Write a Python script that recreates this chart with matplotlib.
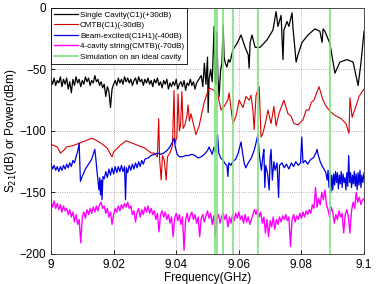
import numpy as np
import matplotlib
matplotlib.use('Agg')
import matplotlib.pyplot as plt

plt.rcParams['font.family'] = ['Liberation Sans', 'DejaVu Sans']

# ── data ────────────────────────────────────────────────────
# Single cavity (C1) +30dB: noisy part sampled every 0.5 MHz from 9.000 GHz
black_noise = [
    -58, -62, -57, -63, -59, -61, -56, -64, -58, -62,
    -57, -66, -60, -69, -58, -63, -56, -61, -58, -64,
    -59, -62, -56, -60, -57, -63, -59, -61, -55, -60,
    -58, -63, -60, -65, -62, -72, -64, -68, -81, -66,
    -62, -59, -63, -57, -61, -58, -62, -56, -60, -57,
    -61, -58, -63, -59, -57, -62, -56, -60, -58, -63,
    -58, -61, -57, -62, -59, -64, -58, -61, -57, -63,
    -60, -65, -59, -62, -58, -66, -61, -64, -60, -63,
    -58, -66, -62, -60, -64, -59, -67, -61, -63, -58,
    -63, -60, -66, -61,
]
black_f = [9.0480, 9.0485, 9.0490, 9.0495, 9.0500, 9.0502, 9.0505, 9.0510, 9.0515,
           9.0521, 9.0524, 9.0527, 9.0530, 9.0533, 9.0537, 9.0542, 9.0546, 9.0550,
           9.0553, 9.0557, 9.0562, 9.0567, 9.0572, 9.0581, 9.0594, 9.0607, 9.0620,
           9.0630, 9.0633, 9.0636, 9.0642, 9.0652, 9.0668, 9.0690, 9.0709, 9.0719,
           9.0725, 9.0735, 9.0741, 9.0744, 9.0754, 9.0760, 9.0770, 9.0773, 9.0783,
           9.0789, 9.0802, 9.0821, 9.0843, 9.0859, 9.0866, 9.0869, 9.0875, 9.0891,
           9.0907, 9.0923, 9.0946, 9.0965, 9.0981, 9.0990, 9.1000]
black_v = [-55, -64, -45, -62, -40, -85, -58, -50, -60,
           -15, -58, -62, -20, -55, -72, -50, -45, -14,
           -40, -45, -48, -42, -44, -34, -29, -22, -32,
           -38, -49, -28, -22, -32, -32, -26, -18, -3,
           -15, -6, -42, -18, -11, -15, -4, -16, -44,
           -38, -28, -22, -17, -19, -28, -17, -19, -29,
           -53, -44, -42, -44, -63, -45, -19]

# CMTB (C1) -30dB
red_f = [9.000, 9.002, 9.003, 9.004, 9.005, 9.007, 9.009, 9.011, 9.013, 9.014,
         9.016, 9.018, 9.019, 9.0195, 9.020, 9.022, 9.024, 9.026, 9.028, 9.030,
         9.032, 9.0330, 9.0340, 9.0344, 9.0347, 9.0352, 9.0356, 9.0362, 9.0368,
         9.0372, 9.0380, 9.0388, 9.0393, 9.0396, 9.0402, 9.0406, 9.0410, 9.0414,
         9.0418, 9.0422, 9.0428, 9.0434, 9.0438, 9.0442, 9.0447, 9.0463, 9.0473,
         9.0489, 9.0502, 9.0505, 9.0521, 9.0534, 9.0543, 9.0553, 9.0565, 9.0569,
         9.0581, 9.0591, 9.0601, 9.0613, 9.0623, 9.0633, 9.0639, 9.0645, 9.0649,
         9.0655, 9.0665, 9.0671, 9.0677, 9.0687, 9.0693, 9.0703, 9.0712, 9.0719,
         9.0728, 9.0744, 9.0757, 9.0767, 9.0776, 9.0789, 9.0805, 9.0815, 9.0824,
         9.0831, 9.0840, 9.0856, 9.0869, 9.0879, 9.0888, 9.0904, 9.0927, 9.0942,
         9.0952, 9.0955, 9.0962, 9.0974, 9.0984, 9.0997, 9.1000]
red_v = [-111, -113, -118, -116, -113, -112, -110, -108, -106, -107,
         -110, -114, -119, -121, -117, -112, -108, -110, -112, -114,
         -118, -118, -121, -90, -123, -140, -120, -124, -140,
         -121, -118, -112, -67, -110, -105, -70, -100, -95,
         -68, -98, -95, -88, -79, -92, -86, -103, -96,
         -77, -67, -65, -67, -72, -83, -80, -75, -69,
         -94, -88, -75, -81, -72, -75, -71, -83, -99,
         -71, -64, -105, -102, -91, -83, -94, -80, -96,
         -86, -75, -86, -88, -94, -95, -91, -83, -83,
         -77, -75, -64, -75, -80, -83, -87, -90, -94,
         -102, -73, -89, -80, -72, -67, -66]

# Beam-excited (C1H1) -40dB
blue_f = [9.000, 9.0005, 9.001, 9.0015, 9.002, 9.0025, 9.003, 9.0035, 9.004, 9.0045,
          9.005, 9.0055, 9.006, 9.0065, 9.007, 9.0075, 9.008, 9.0085, 9.0090, 9.0092,
          9.0094, 9.0098, 9.0105, 9.011, 9.012, 9.013, 9.0136, 9.0140, 9.0143, 9.0147,
          9.0150, 9.0153, 9.0156, 9.0158, 9.0161, 9.0163, 9.0166, 9.017, 9.0175, 9.018,
          9.0185, 9.019, 9.0195, 9.020, 9.0205, 9.021, 9.0215, 9.022, 9.0225, 9.023,
          9.0235, 9.0238, 9.0241, 9.0245, 9.025, 9.0255, 9.026, 9.0265, 9.027, 9.0275,
          9.028, 9.0285, 9.029, 9.0295, 9.030, 9.031, 9.032, 9.033, 9.034, 9.035,
          9.036, 9.037, 9.038, 9.0388, 9.0393, 9.0397, 9.0403, 9.041, 9.042, 9.043,
          9.044, 9.045, 9.046, 9.047, 9.048, 9.049, 9.050, 9.0505, 9.0510, 9.0515,
          9.0521, 9.0526, 9.0532, 9.0536, 9.0542, 9.0550, 9.0557, 9.0562, 9.0565, 9.0568,
          9.0575, 9.058, 9.059, 9.0598, 9.0607, 9.0612, 9.0617, 9.0622, 9.063, 9.064,
          9.0650, 9.0661, 9.0665, 9.0669, 9.0672, 9.0677, 9.0680, 9.0683, 9.0686, 9.0692,
          9.0697, 9.0700, 9.0703, 9.0707, 9.0712, 9.0716, 9.0722, 9.0727, 9.0730, 9.0738,
          9.0745, 9.0752, 9.0760, 9.0768, 9.0775, 9.0782, 9.0790, 9.0797, 9.0801, 9.0805,
          9.0812, 9.0820, 9.0830, 9.0838, 9.0846, 9.0850, 9.0854, 9.0860, 9.0867, 9.0872,
          9.0878, 9.0882, 9.0885, 9.0888, 9.0891, 9.0894, 9.0897, 9.0900, 9.0903, 9.0906,
          9.0909, 9.0912, 9.0915, 9.0918, 9.0921, 9.0924, 9.0927, 9.0930, 9.0933, 9.0936,
          9.0939, 9.0942, 9.0945, 9.0948, 9.0951, 9.0954, 9.0957, 9.0960, 9.0963, 9.0966,
          9.0969, 9.0972, 9.0975, 9.0978, 9.0981, 9.0984, 9.0987, 9.0990, 9.0993, 9.0996,
          9.1000]
blue_v = [-127, -131, -128, -132, -129, -133, -129, -132, -128, -131,
          -127, -130, -126, -129, -124, -126, -121, -117, -110, -125,
          -141, -138, -134, -131, -127, -123, -118, -115, -122, -133,
          -140, -148, -138, -152, -140, -156, -137, -139, -133, -138,
          -131, -136, -130, -135, -129, -134, -129, -133, -128, -133,
          -129, -156, -130, -134, -128, -132, -127, -131, -126, -130,
          -125, -129, -124, -127, -123, -122, -120, -119, -118, -119,
          -118, -116, -113, -109, -106, -113, -119, -121, -121, -120,
          -120, -119, -120, -122, -121, -119, -116, -113, -116, -119,
          -113, -117, -103, -118, -122, -124, -127, -128, -137, -126,
          -128, -125, -123, -118, -109, -118, -126, -130, -126, -122,
          -115, -103, -118, -126, -132, -120, -115, -146, -128, -135,
          -148, -122, -115, -140, -125, -132, -126, -154, -128, -126,
          -130, -127, -131, -126, -129, -125, -128, -126, -105, -126,
          -124, -127, -123, -122, -118, -115, -120, -125, -129, -131,
          -134, -140, -132, -146, -134, -150, -136, -148, -135, -144,
          -133, -142, -134, -147, -136, -143, -133, -146, -135, -142,
          -138, -148, -134, -145, -120, -142, -134, -146, -136, -143,
          -133, -145, -135, -148, -134, -144, -132, -146, -136, -142,
          -134]

# 4-cavity string (CMTB) -70dB, sampled every 0.5 MHz from 9.000 GHz
magenta_v = [
    -158, -162, -157, -163, -159, -164, -160, -166, -161, -165,
    -163, -168, -164, -170, -166, -174, -168, -176, -172, -191,
    -170, -166, -171, -164, -168, -163, -167, -162, -166, -161,
    -165, -160, -158, -163, -161, -167, -163, -170, -166, -176,
    -168, -163, -166, -161, -165, -160, -163, -159, -162, -158,
    -163, -161, -168, -165, -174, -166, -163, -170, -164, -168,
    -162, -166, -161, -167, -163, -168, -165, -172, -167, -182,
    -168, -165, -170, -166, -172, -168, -175, -170, -186, -171,
    -167, -173, -168, -176, -170, -197, -172, -167, -174, -169,
    -166, -172, -168, -175, -170, -186, -171, -168, -174, -169,
    -165, -171, -167, -176, -169, -186, -171, -168, -175, -170,
    -167, -172, -168, -178, -170, -175, -168, -173, -167, -171,
    -166, -172, -169, -175, -168, -174, -170, -176, -172, -168,
    -164, -168, -163, -170, -166, -175, -170, -183, -172, -186,
    -173, -178, -170, -180, -172, -176, -170, -174, -169, -172,
    -168, -173, -170, -194, -172, -168, -174, -169, -172, -167,
    -171, -166, -170, -165, -168, -164, -167, -160, -163, -146,
    -162, -155, -160, -150, -156, -148, -160, -164, -170, -162,
    -166, -175, -168, -172, -165, -170, -167, -183, -168, -164,
    -170, -183, -165, -158, -163, -150, -158, -154, -160, -156,
    -155,
]

# simulated mode frequencies on an ideal cavity (GHz)
sim_modes = [9.0524, 9.0531, 9.0549, 9.0581, 9.0661, 9.0891]

labels = ['Single Cavity(C1)(+30dB)', 'CMTB(C1)(-30dB)',
          'Beam-excited(C1H1)(-40dB)', '4-cavity string(CMTB)(-70dB)',
          'Simulation on an ideal cavity']

# ── figure ─────────────────────────────────────────────────
fig = plt.figure(figsize=(3.82, 2.84), dpi=100)
ax = fig.add_axes([0.1335, 0.106, 0.8195, 0.866])

f_black = 9.0 + 0.0005 * np.arange(len(black_noise))
f_mag = 9.0 + 0.0005 * np.arange(len(magenta_v))

ax.plot(np.concatenate([f_black, black_f]), black_noise + black_v,
        color='k', lw=0.9, label=labels[0])
ax.plot(red_f, red_v, color='#d80000', lw=0.8, label=labels[1])
ax.plot(blue_f, blue_v, color='#0000e0', lw=0.9, label=labels[2])
ax.plot(f_mag, magenta_v, color='#ff00ff', lw=1.0, label=labels[3])
for i, fm in enumerate(sim_modes):
    ax.axvline(fm, color='#80e080', lw=1.2, label=labels[4] if i == 0 else None)

ax.set_xlim(9.0, 9.1)
ax.set_ylim(-200, 0)
ax.set_xticks([9.0, 9.02, 9.04, 9.06, 9.08, 9.1])
ax.set_xticklabels(['9', '9.02', '9.04', '9.06', '9.08', '9.1'])
ax.set_yticks([0, -50, -100, -150, -200])
ax.tick_params(labelsize=8.5, direction='in', length=3, width=0.6)
for s in ax.spines.values():
    s.set_linewidth(0.6)
    s.set_color('#333333')
ax.grid(True, linestyle=':', color='#999999', lw=0.6)
ax.set_xlabel('Frequency(GHz)', fontsize=8.5, labelpad=1)
ax.set_ylabel('S$_{21}$(dB) or Power(dBm)', fontsize=8.5, labelpad=0)

leg = ax.legend(loc='upper left', fontsize=5.8, frameon=True, fancybox=False,
                framealpha=1, edgecolor='k', borderaxespad=0, handlelength=2.9,
                labelspacing=0.35, borderpad=0.4, handletextpad=0.3)
leg.get_frame().set_linewidth(0.6)

fig.savefig('out.png', dpi=100, facecolor='white')
